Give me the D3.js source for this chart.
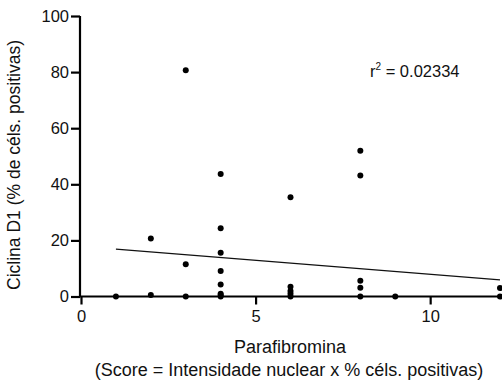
<!DOCTYPE html>
<html>
<head>
<meta charset="utf-8">
<script src="https://cdn.jsdelivr.net/npm/d3@7"></script>
<style>
  body { margin: 0; background: #fff; }
  text { font-family: "Liberation Sans", Arial, sans-serif; fill: #111; }
</style>
</head>
<body>
<div id="chart"></div>
<script>
// score values (x) and cyclin D1 % (y)
const scoreX = [1, 2, 2, 3, 3, 3, 4, 4, 4, 4, 4, 4, 4, 4, 6, 6, 6, 6, 6, 8, 8, 8, 8, 8, 9, 12, 12];
const ciclinaY = [0, 0.5, 20.7, 0, 11.5, 80.7, 0, 0.5, 1, 4.3, 9.1, 15.6, 24.3, 43.7, 0, 1, 2, 3.5, 35.4, 0, 3.1, 5.6, 43.1, 52, 0, 0, 3];
const yTicks = [0, 20, 40, 60, 80, 100];
const xTicks = [0, 5, 10];
// linear fit shown on the chart
const fitX = [1, 12];
const fitY = [16.9, 5.9];
const r2Label = "0.02334";

const width = 502, height = 383;
const margin = {top: 16, right: 2, bottom: 86, left: 80};
const fontSize = "16.5px";

let svg = d3.select("#chart").append("svg")
    .attr("width", width)
    .attr("height", height);

let xScale = d3.scaleLinear().domain([0, 12]).range([margin.left + 1, 500]);
let yScale = d3.scaleLinear().domain([0, 100]).range([height - margin.bottom - 0.5, margin.top]);

// y axis
let yAxis = svg.append("g")
    .attr("transform", "translate(" + margin.left + ",0)")
    .call(d3.axisLeft(yScale).tickValues(yTicks).tickSize(9).tickPadding(2));
yAxis.select(".domain").attr("stroke", "#000").attr("stroke-width", 2.2)
    .attr("d", "M0," + yScale(0) + "V" + yScale(100));
yAxis.selectAll(".tick line").attr("stroke", "#000").attr("stroke-width", 2.2);
yAxis.selectAll(".tick text").style("font-size", fontSize).attr("fill", "#111");

// x axis
let xAxis = svg.append("g")
    .attr("transform", "translate(0," + yScale(0) + ")")
    .call(d3.axisBottom(xScale).tickValues(xTicks).tickSize(8).tickPadding(6));
xAxis.select(".domain").attr("stroke", "#000").attr("stroke-width", 2.2)
    .attr("d", "M" + margin.left + ",0H" + width);
xAxis.selectAll(".tick line").attr("stroke", "#000").attr("stroke-width", 2.2);
xAxis.selectAll(".tick text").style("font-size", fontSize).attr("fill", "#111");

// regression line
let fit = fitX.map((d, i) => [d, fitY[i]]);
svg.append("path")
    .datum(fit)
    .attr("fill", "none")
    .attr("stroke", "#111")
    .attr("stroke-width", 1.2)
    .attr("d", d3.line().x(d => xScale(d[0])).y(d => yScale(d[1])));

// points
svg.append("g").selectAll("circle")
    .data(scoreX.map((d, i) => ({x: d, y: ciclinaY[i]})))
    .enter().append("circle")
    .attr("cx", d => xScale(d.x))
    .attr("cy", d => yScale(d.y))
    .attr("r", 3)
    .attr("fill", "#000");

// r squared label
let r2 = svg.append("text")
    .attr("x", 370)
    .attr("y", 77)
    .style("font-size", "16.5px");
r2.append("tspan").text("r");
r2.append("tspan").attr("dy", -7).style("font-size", "10px").text("2");
r2.append("tspan").attr("dy", 7).text(" = " + r2Label);

// axis titles
svg.append("text")
    .attr("x", 290)
    .attr("y", 353)
    .attr("text-anchor", "middle")
    .style("font-size", "18px")
    .text("Parafibromina");
svg.append("text")
    .attr("x", 289)
    .attr("y", 376)
    .attr("text-anchor", "middle")
    .style("font-size", "18px")
    .text("(Score = Intensidade nuclear x % céls. positivas)");

svg.append("text")
    .attr("transform", "translate(20,165) rotate(-90)")
    .attr("text-anchor", "middle")
    .style("font-size", "17.5px")
    .text("Ciclina D1 (% de céls. positivas)");
</script>
</body>
</html>
